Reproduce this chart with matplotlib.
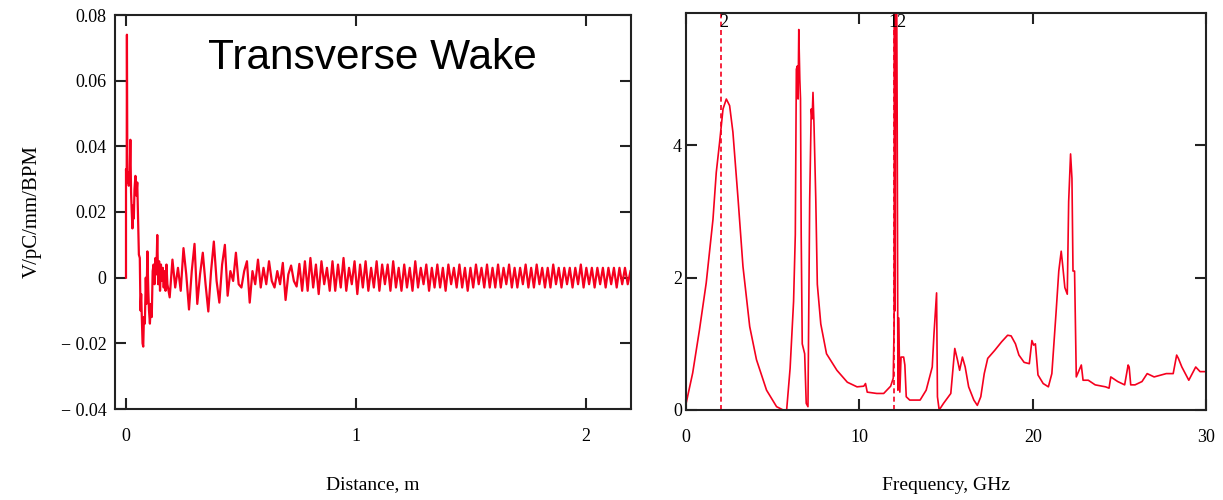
import numpy as np
import matplotlib
matplotlib.use("Agg")
import matplotlib.pyplot as plt

# ---- wake data (distance in m, wake in V/pC/mm/BPM) ----
# first 0.19 m: turning points
dist_early = [0.0, 0.0, 0.003, 0.004, 0.006, 0.009, 0.012, 0.016, 0.019, 0.022,
              0.025, 0.028, 0.031, 0.034, 0.037, 0.041, 0.045, 0.049, 0.052, 0.056,
              0.060, 0.063, 0.066, 0.069, 0.072, 0.075, 0.078, 0.082, 0.086, 0.089,
              0.093, 0.097, 0.100, 0.104, 0.108, 0.112, 0.116, 0.120, 0.124, 0.128,
              0.132, 0.136, 0.140, 0.144, 0.148, 0.152, 0.156, 0.160, 0.164, 0.168,
              0.172, 0.176, 0.180]
wake_early = [0.0, 0.033, 0.030, 0.074, 0.029, 0.032, 0.028, 0.031, 0.042, 0.026,
              0.020, 0.015, 0.022, 0.018, 0.027, 0.031, 0.025, 0.029, 0.020, 0.007,
              0.006, -0.010, -0.005, -0.013, -0.020, -0.021, -0.012, -0.014, 0.000, -0.008,
              0.008, -0.004, -0.010, -0.014, -0.008, -0.012, 0.002, 0.004, -0.002, 0.006,
              0.001, 0.013, -0.002, 0.005, -0.004, 0.004, -0.001, 0.003, -0.003, 0.002,
              -0.004, 0.004, -0.002]

# from 0.19 m on: evenly sampled values
rest_start = 0.19
rest_step = 0.012
wake_rest = [
    -0.006, 0.0055, -0.003, 0.003, -0.004, 0.009, 0.001, -0.0097, 0.002, 0.0103, -0.008, 0.001,
    0.0076, -0.002, -0.0103, 0.002, 0.011, -0.001, -0.0076, 0.004, 0.010, -0.0055, 0.002, -0.001,
    0.0076, -0.002, -0.003, 0.002, 0.005, -0.0076, 0.002, -0.002, 0.0055, -0.003, 0.003, -0.002,
    0.005, -0.001, -0.003, 0.002, -0.002, 0.0045, -0.0068, 0.001, 0.0037, -0.001, -0.0027, 0.0042,
    -0.004, 0.005, -0.004, 0.006, -0.003, 0.004, -0.005, 0.005, -0.002, 0.003, -0.004, 0.005,
    -0.004, 0.004, -0.003, 0.006, -0.004, 0.003, -0.002, 0.005, -0.005, 0.004, -0.003, 0.005,
    -0.004, 0.003, -0.003, 0.005, -0.004, 0.004, -0.002, 0.004, -0.004, 0.005, -0.003, 0.003,
    -0.004, 0.004, -0.003, 0.003, -0.004, 0.005, -0.003, 0.003, -0.002, 0.004, -0.004, 0.003,
    -0.003, 0.004, -0.003, 0.003, -0.004, 0.004, -0.002, 0.003, -0.003, 0.004, -0.003, 0.003,
    -0.004, 0.003, -0.003, 0.004, -0.002, 0.003, -0.003, 0.004, -0.003, 0.003, -0.003, 0.004,
    -0.003, 0.003, -0.002, 0.004, -0.003, 0.003, -0.003, 0.003, -0.002, 0.004, -0.003, 0.003,
    -0.003, 0.004, -0.002, 0.003, -0.003, 0.003, -0.003, 0.004, -0.002, 0.003, -0.003, 0.003,
    -0.002, 0.003, -0.003, 0.003, -0.002, 0.004, -0.003, 0.003, -0.002, 0.003, -0.003, 0.003,
    -0.002, 0.003, -0.003, 0.003, -0.002, 0.003, -0.003, 0.003, -0.002, 0.003, -0.002, 0.002]

wake_yticks = [0.08, 0.06, 0.04, 0.02, 0.0, -0.02, -0.04]
wake_yticklabels = ["0.08", "0.06", "0.04", "0.02", "0", "\u2212 0.02", "\u2212 0.04"]
wake_xticks = [0, 1, 2]

# ---- spectrum data (GHz, arb.) ----
freq_ghz = [0.0, 0.38, 0.77, 1.16, 1.55, 1.74, 1.93, 2.13, 2.32, 2.51, 2.7, 3.0, 3.28,
            3.67, 4.06, 4.64, 5.22, 5.6, 5.8, 6.0, 6.2, 6.3, 6.36, 6.42, 6.46, 6.5,
            6.56, 6.6, 6.64, 6.7, 6.84, 6.93, 7.03, 7.07, 7.13, 7.22, 7.27, 7.32, 7.38,
            7.48, 7.57, 7.77, 8.1, 8.7, 9.3, 9.86, 10.25, 10.35, 10.45, 11.0, 11.4,
            11.8, 11.95, 12.0, 12.02, 12.06, 12.1, 12.14, 12.18, 12.22, 12.27, 12.33,
            12.4, 12.55, 12.62, 12.7, 12.9, 13.5, 13.85, 14.2, 14.3, 14.45, 14.5, 14.6,
            14.85, 15.27, 15.5, 15.66, 15.78, 15.94, 16.1, 16.3, 16.6, 16.8, 17.0, 17.2,
            17.4, 17.8, 18.2, 18.55, 18.75, 19.0, 19.2, 19.5, 19.8, 19.95, 20.05, 20.15,
            20.3, 20.6, 20.9, 21.1, 21.35, 21.5, 21.64, 21.72, 21.85, 21.99, 22.07,
            22.18, 22.26, 22.32, 22.41, 22.51, 22.7, 22.8, 22.9, 23.2, 23.6, 24.2, 24.4,
            24.5, 24.9, 25.3, 25.5, 25.56, 25.65, 25.9, 26.3, 26.6, 27.0, 27.7, 28.1,
            28.3, 28.4, 28.6, 29.0, 29.2, 29.4, 29.65, 30.0]
spectrum = [0.1, 0.56, 1.21, 1.92, 2.88, 3.59, 4.04, 4.55, 4.7, 4.6, 4.2, 3.18, 2.17,
            1.26, 0.76, 0.3, 0.05, 0.0, 0.0, 0.63, 1.64, 2.65, 5.15, 5.2, 4.7, 5.75,
            5.0, 4.7, 2.65, 1.0, 0.85, 0.1, 0.05, 1.3, 3.18, 4.55, 4.4, 4.8, 4.3,
            3.2, 1.9, 1.3, 0.85, 0.6, 0.42, 0.35, 0.36, 0.4, 0.27, 0.25, 0.25,
            0.36, 0.48, 1.3, 7.0, 1.5, 7.0, 7.0, 4.2, 0.3, 1.39, 0.27,
            0.8, 0.8, 0.68, 0.2, 0.15, 0.15, 0.3, 0.65, 1.15, 1.77, 0.2, 0.0,
            0.1, 0.25, 0.93, 0.75, 0.6, 0.8, 0.65, 0.35, 0.15, 0.07, 0.2, 0.55,
            0.78, 0.9, 1.03, 1.13, 1.12, 1.0, 0.83, 0.72, 0.7, 1.05, 0.98, 1.0,
            0.53, 0.4, 0.35, 0.55, 1.5, 2.1, 2.4, 2.2, 1.85, 1.75, 3.15,
            3.87, 3.5, 2.1, 2.1, 0.5, 0.62, 0.68, 0.45, 0.45, 0.38, 0.35, 0.33,
            0.5, 0.43, 0.38, 0.68, 0.65, 0.38, 0.38, 0.43, 0.55, 0.5, 0.55, 0.55,
            0.83, 0.78, 0.65, 0.45, 0.55, 0.65, 0.58, 0.58]
markers_ghz = [2, 12]
marker_labels = ["2", "12"]
spec_xticks = [0, 10, 20, 30]
spec_yticks = [0, 2, 4]

red = "#f5001e"
serif = "Liberation Serif"

rest_x = rest_start + rest_step * np.arange(len(wake_rest))
wake_x = np.concatenate([dist_early, rest_x])
wake_y = np.concatenate([wake_early, wake_rest])

fig = plt.figure(figsize=(12.23, 5.0), dpi=100)
ax1 = fig.add_axes([0.094, 0.182, 0.4219, 0.788])
ax2 = fig.add_axes([0.561, 0.18, 0.4252, 0.794])

# left: transverse wake
ax1.plot(wake_x, wake_y, color=red, lw=1.6)
ax1.set_xlim(-0.048, 2.196)
ax1.set_ylim(-0.04, 0.08)
ax1.set_yticks(wake_yticks)
ax1.set_yticklabels(wake_yticklabels)
ax1.set_xticks(wake_xticks)
ax1.set_xlabel("Distance, m", family=serif, fontsize=14, labelpad=22)
ax1.set_ylabel("V/pC/mm/BPM", family=serif, fontsize=15, labelpad=14)
ax1.text(0.18, 0.89, "Transverse Wake", transform=ax1.transAxes,
         family="Liberation Sans", fontsize=30.5, va="center", ha="left")

# right: spectrum
ax2.plot(freq_ghz, spectrum, color=red, lw=1.2)
for f, lab in zip(markers_ghz, marker_labels):
    ax2.axvline(f, color=red, lw=1.2, ls=(0, (3, 2)))
    ax2.text(f - 0.1 - 0.25 * (len(lab) - 1), 5.85, lab, family=serif,
             fontsize=13, ha="left", va="center")
ax2.set_xlim(0, 30)
ax2.set_ylim(0, 6.0)
ax2.set_xticks(spec_xticks)
ax2.set_yticks(spec_yticks)
ax2.set_xlabel("Frequency, GHz", family=serif, fontsize=14, labelpad=22)

for ax in (ax1, ax2):
    for s in ax.spines.values():
        s.set_linewidth(1.5)
        s.set_color("#222222")
    ax.tick_params(direction="in", length=8, width=1.5, color="#222222",
                   top=True, right=True, labelsize=13)
    for lab in ax.get_xticklabels() + ax.get_yticklabels():
        lab.set_family(serif)
ax1.tick_params(axis="x", pad=14)
ax1.tick_params(axis="y", pad=6)
ax2.tick_params(axis="x", pad=14)
ax2.tick_params(axis="y", pad=3)

fig.savefig("out.png", dpi=100)
